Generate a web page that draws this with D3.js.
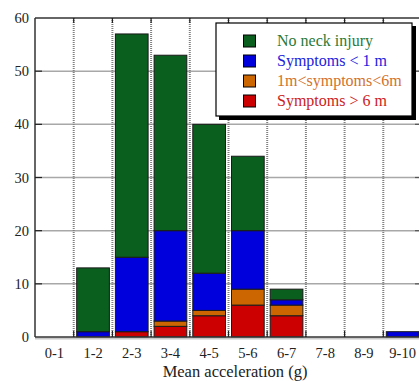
<!DOCTYPE html>
<html><head><meta charset="utf-8">
<script src="https://cdn.jsdelivr.net/npm/d3@7"></script>
<style>body{margin:0;background:#fff}svg{display:block}text{font-family:"Liberation Serif","Times New Roman",serif}</style>
</head><body><svg id="c" width="419" height="381"></svg>
<script>
const categories = ["0-1","1-2","2-3","3-4","4-5","5-6","6-7","7-8","8-9","9-10"];
const seriesNames = ["Symptoms > 6 m","1m<symptoms<6m","Symptoms < 1 m","No neck injury"];
const redVals    = [0,0,1,2,4,6,4,0,0,0];
const orangeVals = [0,0,0,1,1,3,2,0,0,0];
const blueVals   = [0,1,14,17,7,11,1,0,0,1];
const greenVals  = [0,12,42,33,28,14,2,0,0,0];
const yTicks = [0,10,20,30,40,50,60];
const colors = ["#cc0000","#cc6600","#0000dd","#0a5e1e"];
const textColors = ["#cc2222","#d2722e","#2222dd","#2a7a3a"];

const svg = d3.select("#c");
const L=35, R=422, T=18, B=337;
const x = d3.scaleBand().domain(categories).range([L,R]).paddingInner(0).paddingOuter(0);
const y = d3.scaleLinear().domain([0,60]).range([B,T]);

const rows = categories.map((c,i)=>({cat:c, s0:redVals[i], s1:orangeVals[i], s2:blueVals[i], s3:greenVals[i]}));
const stack = d3.stack().keys(["s0","s1","s2","s3"])(rows);

// horizontal grid
svg.append("g").selectAll("line").data(yTicks.filter(v=>v>0&&v<60)).join("line")
  .attr("x1",L).attr("x2",R).attr("y1",d=>y(d)).attr("y2",d=>y(d))
  .attr("stroke","#a8a8a8").attr("stroke-width",1.5);
// vertical dotted grid at band boundaries
const bounds = categories.slice(1).map(c=>x(c));
svg.append("g").selectAll("line").data(bounds).join("line")
  .attr("x1",d=>d).attr("x2",d=>d).attr("y1",T).attr("y2",B)
  .attr("stroke","#808080").attr("stroke-width",2).attr("stroke-dasharray","1,1");

// bars
const bw = x.bandwidth();
stack.forEach((layer,k)=>{
  svg.append("g").selectAll("rect").data(layer.filter(d=>d[1]-d[0]>0)).join("rect")
    .attr("x",d=>x(d.data.cat)+3).attr("width",bw-6)
    .attr("y",d=>y(d[1])).attr("height",d=>y(d[0])-y(d[1]))
    .attr("fill",colors[k]).attr("stroke","#1a1a1a").attr("stroke-width",1);
});

// axes frame
svg.append("line").attr("x1",L).attr("x2",R).attr("y1",T).attr("y2",T).attr("stroke","#333").attr("stroke-width",1.5);
svg.append("line").attr("x1",L).attr("x2",R).attr("y1",B+1.5).attr("y2",B+1.5).attr("stroke","#c8c8c8").attr("stroke-width",2);
svg.append("line").attr("x1",L).attr("x2",R).attr("y1",B).attr("y2",B).attr("stroke","#333").attr("stroke-width",1.5);
svg.append("line").attr("x1",L).attr("x2",L).attr("y1",T).attr("y2",B).attr("stroke","#333").attr("stroke-width",1.5);

// ticks top/bottom at boundaries
svg.append("g").selectAll("line").data(bounds).join("line")
  .attr("x1",d=>d).attr("x2",d=>d).attr("y1",T).attr("y2",T+5).attr("stroke","#222").attr("stroke-width",1.2);
svg.append("g").selectAll("line").data(bounds).join("line")
  .attr("x1",d=>d).attr("x2",d=>d).attr("y1",B).attr("y2",B-6).attr("stroke","#222").attr("stroke-width",1.2);
// y ticks
svg.append("g").selectAll("line").data(yTicks.filter(v=>v>0&&v<60)).join("line")
  .attr("x1",L).attr("x2",L+7).attr("y1",d=>y(d)).attr("y2",d=>y(d)).attr("stroke","#222").attr("stroke-width",1.2);
svg.append("g").selectAll("line").data(yTicks.filter(v=>v>0&&v<60)).join("line")
  .attr("x1",415).attr("x2",R).attr("y1",d=>y(d)).attr("y2",d=>y(d)).attr("stroke","#555").attr("stroke-width",1.2);

// y labels
svg.append("g").selectAll("text").data(yTicks).join("text")
  .attr("x",29).attr("y",d=>y(d)+5).attr("text-anchor","end")
  .attr("font-size",14.5).attr("fill","#222").text(d=>d);
// x labels
svg.append("g").selectAll("text").data(categories).join("text")
  .attr("x",d=>x(d)+bw/2).attr("y",358).attr("text-anchor","middle")
  .attr("font-size",14.5).attr("fill","#222").text(d=>d);
svg.append("text").attr("x",235).attr("y",377).attr("text-anchor","middle")
  .attr("font-size",16.5).attr("fill","#222").text("Mean acceleration (g)");

// legend
const lg = svg.append("g");
lg.append("rect").attr("x",219).attr("y",26).attr("width",197).attr("height",94).attr("fill","#000");
lg.append("rect").attr("x",216).attr("y",23).attr("width",196).attr("height",93).attr("fill","#fff").attr("stroke","#000").attr("stroke-width",1.2);
const order = [3,2,1,0];
order.forEach((k,i)=>{
  const cy = 41 + i*20;
  lg.append("rect").attr("x",243.5).attr("y",cy-6).attr("width",12).attr("height",12)
    .attr("fill",colors[k]).attr("stroke","#000").attr("stroke-width",1);
  lg.append("text").attr("x",277).attr("y",cy+5).attr("font-size",16)
    .attr("fill",textColors[k]).text(seriesNames[k]);
});
</script></body></html>
